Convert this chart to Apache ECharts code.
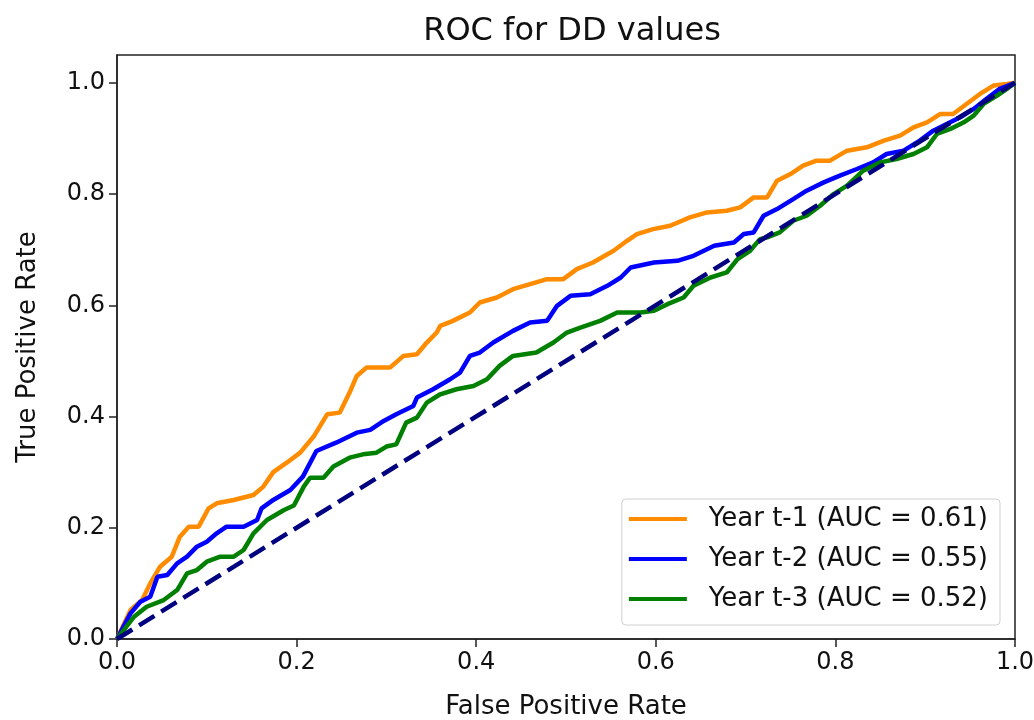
<!DOCTYPE html>
<html>
<head>
<meta charset="utf-8">
<script src="https://cdn.jsdelivr.net/npm/echarts@6/dist/echarts.min.js"></script>
<style>
html,body{margin:0;padding:0;background:#fff;}
#chart{width:1034px;height:720px;}
</style>
</head>
<body>
<div id="chart"></div>
<script>
const titleText = 'ROC for DD values';
const xName = 'False Positive Rate';
const yName = 'True Positive Rate';
const tickValues = [0, 0.2, 0.4, 0.6, 0.8, 1.0];
const seriesNames = ['Year t-1 (AUC = 0.61)', 'Year t-2 (AUC = 0.55)', 'Year t-3 (AUC = 0.52)'];

const t1Fpr = [0,.015,.028,.037,.048,.061,.07,.08,.091,.102,.111,.13,.152,.163,.174,.189,.204,.219,.234,.248,.259,.267,.278,.304,.319,.334,.345,.356,.36,.374,.393,.404,.423,.441,.46,.479,.497,.512,.53,.553,.568,.579,.597,.616,.638,.657,.679,.694,.709,.724,.735,.75,.764,.779,.794,.813,.835,.854,.872,.887,.902,.917,.931,.946,.961,.976,.991,1];
const t1Tpr = [0,.052,.07,.10,.13,.148,.184,.202,.202,.235,.244,.25,.259,.274,.30,.317,.335,.364,.404,.407,.443,.473,.488,.488,.509,.512,.533,.551,.563,.572,.587,.605,.614,.629,.638,.647,.647,.665,.677,.698,.716,.728,.737,.743,.758,.767,.77,.776,.794,.794,.824,.836,.851,.86,.86,.878,.884,.896,.905,.92,.929,.944,.944,.962,.98,.995,.998,1];

const t2Fpr = [0,.015,.026,.037,.045,.056,.067,.078,.089,.10,.111,.122,.141,.156,.161,.174,.193,.207,.222,.244,.267,.282,.297,.311,.33,.334,.352,.371,.382,.393,.404,.419,.441,.46,.479,.49,.505,.527,.546,.561,.572,.598,.624,.642,.665,.687,.698,.709,.72,.735,.753,.768,.787,.805,.824,.842,.857,.876,.894,.909,.924,.939,.954,.968,.983,1];
const t2Tpr = [0,.046,.067,.076,.112,.115,.136,.148,.166,.175,.19,.202,.202,.214,.235,.25,.268,.292,.338,.353,.371,.376,.392,.404,.419,.434,.449,.467,.479,.509,.515,.533,.554,.569,.572,.599,.617,.62,.635,.65,.668,.677,.68,.689,.707,.713,.728,.731,.761,.773,.791,.806,.821,.833,.845,.857,.872,.878,.896,.914,.926,.938,.953,.971,.989,1];

const t3Fpr = [0,.019,.033,.052,.067,.078,.089,.10,.115,.13,.141,.152,.167,.186,.197,.208,.215,.23,.241,.259,.274,.289,.3,.311,.322,.334,.345,.36,.378,.397,.412,.426,.441,.467,.486,.501,.516,.538,.557,.583,.598,.613,.631,.642,.661,.679,.691,.705,.716,.724,.738,.753,.768,.783,.798,.813,.831,.85,.868,.887,.902,.913,.928,.943,.954,.965,.98,.991,1];
const t3Tpr = [0,.04,.058,.07,.088,.118,.124,.139,.148,.148,.16,.19,.214,.232,.24,.274,.29,.29,.31,.326,.332,.335,.346,.35,.389,.398,.425,.44,.449,.455,.467,.491,.509,.515,.533,.551,.56,.572,.587,.587,.59,.602,.614,.635,.65,.659,.683,.698,.719,.722,.731,.752,.761,.779,.8,.815,.842,.857,.863,.872,.884,.908,.917,.929,.941,.962,.977,.989,1];

const diagX = [0, 1];
const diagY = [0, 1];

function pairs(xs, ys){ return xs.map((x,i)=>[x, ys[i]]); }

const FONT = 'DejaVu Sans';
const chart = echarts.init(document.getElementById('chart'), null, {renderer:'canvas'});

const labelFmt = v => (Math.abs(v*5 - Math.round(v*5)) < 1e-6 ? v.toFixed(1) : '');

chart.setOption({
  animation:false,
  backgroundColor:'#fff',
  title:{
    text:titleText, left:567, textAlign:'center', top:11,
    textStyle:{fontFamily:FONT, fontSize:32, fontWeight:'normal', color:'#111'}
  },
  grid:{left:117, right:19, top:55, bottom:81, outerBoundsMode:'none', containLabel:false,
        show:true, borderColor:'#222', borderWidth:1.5, backgroundColor:'rgba(0,0,0,0)'},
  legend:{
    data:seriesNames,
    orient:'vertical', right:34, bottom:95,
    icon:'rect', itemWidth:58, itemHeight:4, itemGap:12,
    padding:[6,12,12,7],
    borderColor:'#d0d0d0', borderWidth:1, borderRadius:4,
    backgroundColor:'rgba(255,255,255,0.8)',
    textStyle:{fontFamily:FONT, fontSize:26, color:'#111', lineHeight:28, padding:[0,0,0,17]}
  },
  xAxis:{
    type:'value', min:0, max:1, interval:0.2,
    name:xName, nameLocation:'middle', nameGap:55,
    nameTextStyle:{fontFamily:FONT, fontSize:26, color:'#111'},
    axisLine:{show:true, lineStyle:{color:'#222', width:1.5}},
    axisTick:{show:true, length:8, lineStyle:{color:'#222', width:1.5}, customValues:tickValues},
    axisLabel:{fontFamily:FONT, fontSize:24, color:'#111', margin:12, customValues:tickValues, formatter:labelFmt},
    splitLine:{show:false}
  },
  yAxis:{
    type:'value', min:0, max:1.05, interval:0.2,
    name:yName, nameLocation:'middle', nameGap:76,
    nameTextStyle:{fontFamily:FONT, fontSize:26, color:'#111'},
    axisLine:{show:true, lineStyle:{color:'#222', width:1.5}},
    axisTick:{show:true, length:8, lineStyle:{color:'#222', width:1.5}, customValues:tickValues},
    axisLabel:{fontFamily:FONT, fontSize:24, color:'#111', margin:12, customValues:tickValues, formatter:labelFmt},
    splitLine:{show:false}
  },
  series:[
    {name:seriesNames[0], type:'line', data:pairs(t1Fpr,t1Tpr), symbol:'none', color:'#ff8c00', lineStyle:{width:4.5, color:'#ff8c00'}, z:2},
    {name:seriesNames[1], type:'line', data:pairs(t2Fpr,t2Tpr), symbol:'none', color:'#0000ff', lineStyle:{width:4.5, color:'#0000ff'}, z:3},
    {name:seriesNames[2], type:'line', data:pairs(t3Fpr,t3Tpr), symbol:'none', color:'#008000', lineStyle:{width:4.5, color:'#008000'}, z:4},
    {name:'diag', type:'line', data:pairs(diagX,diagY), symbol:'none', color:'#000080', lineStyle:{width:4.5, color:'#000080', type:[18,8]}, z:5}
  ]
});
</script>
</body>
</html>
